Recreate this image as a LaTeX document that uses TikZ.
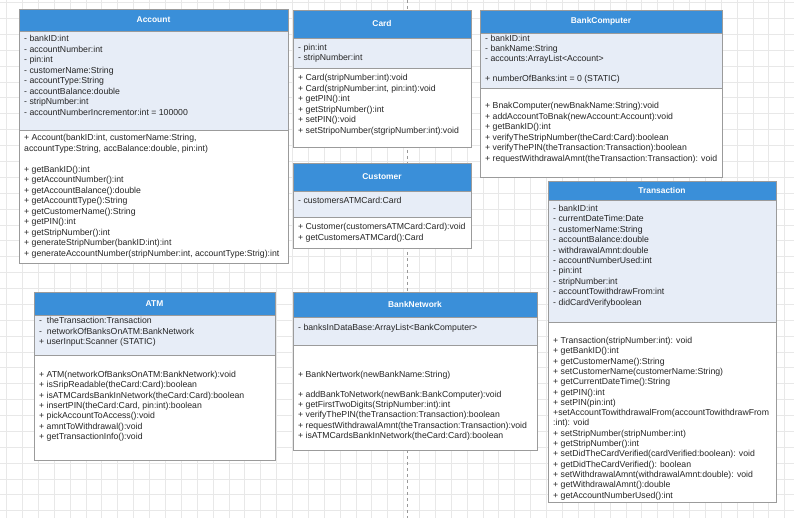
\documentclass[tikz,border=0pt]{standalone}
\usepackage{fontspec}
\setmainfont{Liberation Sans}
\definecolor{hdrblue}{RGB}{58,143,217}
\definecolor{attrfill}{RGB}{231,237,247}
\definecolor{edgegray}{RGB}{155,155,155}
\definecolor{gridgray}{RGB}{232,232,232}
\begin{document}
\begin{tikzpicture}[x=1pt,y=-1pt,
  gridline/.style={draw=gridgray,line width=0.6pt},
  pagebreak/.style={draw=black!40,dashed,line width=0.6pt},
  hdr/.style={draw=edgegray,fill=hdrblue},
  attrsec/.style={draw=edgegray,fill=attrfill},
  methsec/.style={draw=edgegray,fill=white},
  clsname/.style={text=white,font=\bfseries\fontsize{8.4}{10}\selectfont},
  members/.style={anchor=north west,align=left,inner sep=0pt,text=black!85,font=\fontsize{8.7}{10.5}\selectfont}]
\useasboundingbox (0,0) rectangle (794,518);
\fill[white] (0,0) rectangle (794,518);

\foreach \gx in {6.5,22.38,...,794} \draw[gridline] (\gx,0) -- (\gx,518);
\foreach \gy in {2.5,18.38,...,518} \draw[gridline] (0,\gy) -- (794,\gy);
\draw[pagebreak] (407.5,0) -- (407.5,518);

\draw[hdr] (19,9) rectangle (288,31);
\node[clsname] (acctName) at (153.5,20) {Account};
\draw[attrsec] (19,31) rectangle (288,130);
\node[members] (acctAttr) at (24,35) {- bankID:int\\- accountNumber:int\\- pin:int\\- customerName:String\\- accountType:String\\- accountBalance:double\\- stripNumber:int\\- accountNumberIncrementor:int = 100000};
\draw[methsec] (19,130) rectangle (288,263);
\node[members] (acctMeth) at (24,134) {+ Account(bankID:int, customerName:String,\\accountType:String, accBalance:double, pin:int)\\[10.5pt]+ getBankID():int\\+ getAccountNumber():int\\+ getAccountBalance():double\\+ getAccounttType():String\\+ getCustomerName():String\\+ getPIN():int\\+ getStripNumber():int\\+ generateStripNumber(bankID:int):int\\+ generateAccountNumber(stripNumber:int, accountType:Strig):int};

\draw[hdr] (293,10) rectangle (471,38);
\node[clsname] (cardName) at (382,24) {Card};
\draw[attrsec] (293,38) rectangle (471,68);
\node[members,font=\fontsize{8.7}{9.5}\selectfont] (cardAttr) at (298,44) {- pin:int\\- stripNumber:int};
\draw[methsec] (293,68) rectangle (471,147);
\node[members] (cardMeth) at (298,74) {+ Card(stripNumber:int):void\\+ Card(stripNumber:int, pin:int):void\\+ getPIN():int\\+ getStripNumber():int\\+ setPIN():void\\+ setStripoNumber(stgripNumber:int):void};

\draw[hdr] (480,10) rectangle (722,33);
\node[clsname] (bankCompName) at (601,21.5) {BankComputer};
\draw[attrsec] (480,33) rectangle (722,88);
\node[members,font=\fontsize{8.7}{10}\selectfont] (bankCompAttr) at (485,35) {- bankID:int\\- bankName:String\\- accounts:ArrayList<Account>\\[10pt]+ numberOfBanks:int = 0 (STATIC)};
\draw[methsec] (480,88) rectangle (722,177);
\node[members] (bankCompMeth) at (485,102) {+ BnakComputer(newBnakName:String):void\\+ addAccountToBnak(newAccount:Account):void\\+ getBankID():int\\+ verifyTheStripNumber(theCard:Card):boolean\\+ verifyThePIN(theTransaction:Transaction):boolean\\+ requestWithdrawalAmnt(theTransaction:Transaction): void};

\draw[hdr] (293,163) rectangle (471,191);
\node[clsname] (custName) at (382,177) {Customer};
\draw[attrsec] (293,191) rectangle (471,217);
\node[members] (custAttr) at (298,197) {- customersATMCard:Card};
\draw[methsec] (293,217) rectangle (471,248);
\node[members] (custMeth) at (298,223) {+ Customer(customersATMCard:Card):void\\+ getCustomersATMCard():Card};

\draw[hdr] (548,181) rectangle (776,200);
\node[clsname] (transName) at (662,190.5) {Transaction};
\draw[attrsec] (548,200) rectangle (776,322);
\node[members,font=\fontsize{8.7}{10.4}\selectfont] (transAttr) at (553,205) {- bankID:int\\- currentDateTime:Date\\- customerName:String\\- accountBalance:double\\- withdrawalAmnt:double\\- accountNumberUsed:int\\- pin:int\\- stripNumber:int\\- accountTowithdrawFrom:int\\- didCardVerifyboolean};
\draw[methsec] (548,322) rectangle (776,502);
\node[members,font=\fontsize{8.7}{10.3}\selectfont] (transMeth) at (553,337) {+ Transaction(stripNumber:int): void\\+ getBankID():int\\+ getCustomerName():String\\+ setCustomerName(customerName:String)\\+ getCurrentDateTime():String\\+ getPIN():int\\+ setPIN(pin:int)\\+setAccountTowithdrawalFrom(accountTowithdrawFrom\\:int): void\\+ setStripNumber(stripNumber:int)\\+ getStripNumber():int\\+ setDidTheCardVerified(cardVerified:boolean): void\\+ getDidTheCardVerified(): boolean\\+ setWithdrawalAmnt(withdrawalAmnt:double): void\\+ getWithdrawalAmnt():double\\+ getAccountNumberUsed():int};

\draw[hdr] (34,292) rectangle (275,315);
\node[clsname] (atmName) at (154.5,303.5) {ATM};
\draw[attrsec] (34,315) rectangle (275,355);
\node[members] (atmAttr) at (39,317) {-\ \ theTransaction:Transaction\\-\ \ networkOfBanksOnATM:BankNetwork\\+ userInput:Scanner (STATIC)};
\draw[methsec] (34,355) rectangle (275,460);
\node[members,font=\fontsize{8.7}{10.3}\selectfont] (atmMeth) at (39,371) {+ ATM(networkOfBanksOnATM:BankNetwork):void\\+ isSripReadable(theCard:Card):boolean\\+ isATMCardsBankInNetwork(theCard:Card):boolean\\+ insertPIN(theCard:Card, pin:int):boolean\\+ pickAccountToAccess():void\\+ amntToWithdrawal():void\\+ getTransactionInfo():void};

\draw[hdr] (293,292) rectangle (537,317);
\node[clsname] (bankNetName) at (415,304.5) {BankNetwork};
\draw[attrsec] (293,317) rectangle (537,345);
\node[members] (bankNetAttr) at (298,324) {- banksInDataBase:ArrayList<BankComputer>};
\draw[methsec] (293,345) rectangle (537,450);
\node[members,font=\fontsize{8.7}{10.2}\selectfont] (bankNetMeth) at (298,371) {+ BankNertwork(newBankName:String)\\[9.8pt]+ addBankToNetwork(newBank:BankComputer):void\\+ getFirstTwoDigits(StripNumber:int):int\\+ verifyThePIN(theTransaction:Transaction):boolean\\+ requestWithdrawalAmnt(theTransaction:Transaction):void\\+ isATMCardsBankInNetwork(theCard:Card):boolean};
\end{tikzpicture}
\end{document}
